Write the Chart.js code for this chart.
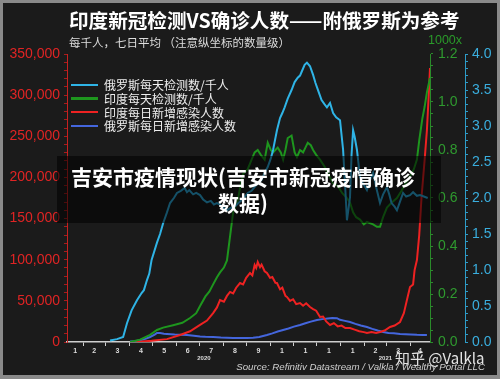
<!DOCTYPE html>
<html>
<head>
<meta charset="utf-8">
<script src="https://cdn.jsdelivr.net/npm/chart.js@4"></script>
<style>
  html, body { margin:0; padding:0; }
  body { width:500px; height:379px; background:#8a8a8a; position:relative; overflow:hidden; }
  #frame { position:absolute; left:3px; top:3px; width:494px; height:372px; background:#1b1b1b; }
  #c { position:absolute; left:0; top:0; }
  .txt { position:absolute; white-space:nowrap; }
  #title { left:69px; top:6px; font:bold 19.6px "Noto Sans CJK SC", sans-serif; color:#fff; line-height:28px; }
  #sub { left:69px; top:34px; font:11.5px "Noto Sans CJK SC", sans-serif; color:#ddd; line-height:16px; }
  #kx { left:428px; top:32px; font:12.5px "Liberation Sans", Arial, sans-serif; color:#2a9a2a; line-height:16px; }
  #legend { position:absolute; left:71px; top:78px; }
  .li { height:13.7px; display:flex; align-items:center; font:12px "Noto Sans CJK SC", sans-serif; color:#eee; }
  .sw { width:27px; height:2.5px; margin-right:6px; }
  #overlay { position:absolute; left:57px; top:156px; width:384px; height:67px; background:rgba(0,0,0,0.55);
             text-align:center; font:bold 21px "Noto Sans CJK SC", sans-serif; color:#fff; line-height:26px;
             box-sizing:border-box; padding-top:7px; padding-right:12px; }
  #src { right:15px; top:361px; font:italic 9.7px "Liberation Sans", Arial, sans-serif; color:#cfcfcf; }
  #wm { left:395px; top:347px; font:15px "Noto Sans CJK SC", sans-serif; color:rgba(255,255,255,0.88); }
</style>
</head>
<body>
<div id="frame"></div>
<canvas id="c" width="500" height="379"></canvas>
<div class="txt" id="title">印度新冠检测VS确诊人数——附俄罗斯为参考</div>
<div class="txt" id="sub">每千人，七日平均 （注意纵坐标的数量级）</div>
<div class="txt" id="kx">1000x</div>
<div id="legend"></div>
<div id="overlay">吉安市疫情现状(吉安市新冠疫情确诊<br>数据)</div>
<div class="txt" id="wm">知乎 @Valkla</div>
<div class="txt" id="src">Source: Refinitiv Datastream / Valkla / Wealthy Portal LLC</div>
<script>
// x values are days counted from 2020-01-01 (day 0)
const seriesLabels = ['俄罗斯每天检测数/千人', '印度每天检测数/千人', '印度每日新增感染人数', '俄罗斯每日新增感染人数'];

// Russia daily tests per thousand (cyan axis)
const ruTestDays = [66,75,83,88,94,101,107,110,114,117,120,127,131,135,140,144,149,153,158,163,166,169,174,178,183,187,192,197,201,205,210,214,218,222,228,233,240,245,250,256,263,267,271,275,278,283,287,290,293,297,302,306,310,313,315,319,322,326,330,333,335,338,341,345,348,352,356,360,365,369,372,374,376,378,380,382,384,387,391,395,400,404,408,412,417,421,426,429,432,436,439,443,447,451,456,460,465,469,474,479];
const ruTests = [0.02,0.04,0.07,0.26,0.44,0.58,0.68,0.72,0.86,0.95,1.14,1.38,1.50,1.65,1.80,1.93,2.00,2.07,2.10,2.14,2.08,2.11,2.05,2.07,2.04,1.98,1.94,1.96,1.91,1.93,1.90,1.86,1.83,1.86,1.88,1.93,2.00,2.07,2.10,2.18,2.25,2.35,2.43,2.55,2.67,2.94,3.11,3.18,3.26,3.38,3.50,3.61,3.67,3.70,3.75,3.85,3.88,3.83,3.71,3.60,3.54,3.45,3.36,3.30,3.26,3.32,3.18,3.12,3.08,2.67,2.10,1.69,1.85,2.01,2.60,2.94,2.85,2.67,2.29,2.20,2.11,2.25,2.35,2.15,1.93,2.05,2.15,2.05,1.93,1.88,1.83,1.95,2.07,2.02,2.04,2.08,2.03,2.04,2.02,2.00];

// India daily tests per thousand (green axis)
const inTestDays = [92,105,118,127,135,148,160,170,178,183,190,195,200,205,209,214,218,222,226,232,236,239,245,250,254,258,262,267,271,275,278,284,288,291,294,297,302,306,309,313,317,320,323,327,330,334,339,345,350,356,362,368,374,378,382,386,391,396,400,408,413,417,421,426,432,439,445,450,456,461,465,468,472,475,478,482];
const inTests = [0,0.01,0.03,0.05,0.06,0.07,0.08,0.10,0.12,0.15,0.19,0.21,0.24,0.27,0.29,0.31,0.34,0.44,0.54,0.59,0.66,0.70,0.72,0.76,0.79,0.80,0.78,0.76,0.83,0.80,0.79,0.81,0.79,0.76,0.80,0.85,0.86,0.79,0.77,0.80,0.79,0.81,0.83,0.82,0.80,0.78,0.76,0.73,0.70,0.66,0.65,0.62,0.60,0.58,0.54,0.52,0.51,0.49,0.50,0.49,0.48,0.48,0.52,0.56,0.58,0.60,0.63,0.66,0.69,0.72,0.76,0.84,0.93,0.98,1.04,1.10];

// India daily new cases (left axis)
const inCaseDays = [100,120,140,157,170,183,192,200,205,209,214,218,222,226,230,235,239,243,248,251,254,256,258,261,263,267,270,274,277,281,283,287,290,294,296,300,304,308,313,317,321,326,330,334,339,343,347,352,357,362,367,372,378,384,390,396,400,406,412,417,423,430,436,443,448,452,456,460,462,465,468,471,475,478,480,482];
const inCases = [0,1500,3500,8500,13000,20700,26000,35200,42000,51000,49000,56000,60800,59000,66000,71700,70000,78000,83900,81000,93600,90000,97200,91000,94000,86000,83900,78000,79000,72000,71700,64000,66000,56000,54700,50000,52000,46000,47400,44000,47000,42500,40000,38000,30400,31000,25000,20700,23000,19000,20000,17000,17000,15000,13000,12000,10900,12000,11000,12200,14000,18200,20000,24300,35000,51000,66800,70000,87500,99600,130000,176200,221100,257600,294000,333000];

// Russia daily new cases (left axis)
const ruCaseDays = [92,100,111,118,124,127,131,136,140,150,158,166,175,183,190,200,210,218,226,235,244,252,260,265,270,277,284,291,298,305,313,320,327,335,342,349,355,361,365,370,378,385,392,400,407,414,421,428,435,443,450,457,465,472,478];
const ruCases = [600,1200,3600,6100,9000,11000,10900,10000,9700,9000,8800,8500,7500,6700,6300,6100,5400,5100,4900,4900,5000,5100,6000,7200,8500,10500,12700,14600,16500,18700,20700,22800,24800,26700,27800,28500,29200,29000,27000,26000,24300,22000,20000,18200,16000,14000,12200,11000,10500,9700,9300,9000,8700,8600,8500];

// Month axis: first day of each month shown, and the labels under each month
const monthStarts = [10,31,60,91,121,152,182,213,244,274,305,335,366,397,425,456,482];
const monthLabels = ['1','2','3','4','5','6','7','8','9','1','1','1','1','2','3','4'];
const yearLabels = ['2020','2021'];
const yearSpans = [[10,366],[366,482]];

const leftTickLabels = [0,50000,100000,150000,200000,250000,300000,350000];

const colors = ['#2fb4e6', '#1e961e', '#ee2222', '#4466dd'];

function pts(days, vals) { return days.map((d, i) => ({x: d, y: vals[i]})); }

const monthMids = monthLabels.map((_, i) => (monthStarts[i] + monthStarts[i + 1]) / 2);
const xTicks = [];
monthStarts.slice(1, -1).forEach(v => xTicks.push({value: v, label: '', mark: true}));
monthMids.forEach((v, i) => xTicks.push({value: v, label: monthLabels[i], mark: false}));
xTicks.sort((a, b) => a.value - b.value);

const yearMids = yearSpans.map(s => (s[0] + s[1]) / 2);

Chart.defaults.font.family = '"Liberation Sans", Arial, sans-serif';

const near = (v, step) => Math.abs(v / step - Math.round(v / step)) < 1e-6;

const ds = [
  {data: pts(ruTestDays, ruTests), yAxisID: 'yC'},
  {data: pts(inTestDays, inTests), yAxisID: 'yG'},
  {data: pts(inCaseDays, inCases), yAxisID: 'yL'},
  {data: pts(ruCaseDays, ruCases), yAxisID: 'yL'}
].map((d, i) => Object.assign(d, {
  label: seriesLabels[i], borderColor: colors[i], backgroundColor: colors[i],
  borderWidth: 2, pointRadius: 0, tension: 0, xAxisID: 'x', fill: false
}));

const chart = new Chart(document.getElementById('c'), {
  type: 'line',
  data: {datasets: ds},
  options: {
    responsive: false, animation: false, devicePixelRatio: 1,
    layout: {padding: {left: 0, top: 54, right: 3, bottom: 14}},
    plugins: {legend: {display: false}, tooltip: {enabled: false}},
    scales: {
      x: {
        type: 'linear', position: 'bottom', min: 10, max: 482, weight: 0,
        afterBuildTicks: s => { s.ticks = xTicks.map(t => ({value: t.value})); },
        afterFit: s => { s.height = 13; },
        ticks: {
          autoSkip: false, maxRotation: 0, padding: 1, color: '#dcdcdc',
          font: {size: 7, weight: 'bold'},
          callback: (v) => { const t = xTicks.find(k => k.value === v); return t ? t.label : ''; }
        },
        grid: {drawOnChartArea: false, tickLength: 4, tickWidth: 1,
               tickColor: (c) => (c.tick && xTicks.find(k => k.value === c.tick.value && k.mark)) ? '#cfcfcf' : 'rgba(0,0,0,0)'},
        border: {color: '#cfcfcf', width: 1.5}
      },
      xYear: {
        type: 'linear', position: 'bottom', min: 10, max: 482, weight: 1,
        afterBuildTicks: s => { s.ticks = yearMids.map(v => ({value: v})); },
        afterFit: s => { s.height = 10; },
        ticks: {autoSkip: false, maxRotation: 0, padding: 0, color: '#dcdcdc', font: {size: 6, weight: 'bold'},
                callback: (v) => { const i = yearMids.indexOf(v); return i >= 0 ? yearLabels[i] : ''; }},
        grid: {display: false, drawTicks: false},
        border: {display: false}
      },
      yL: {
        type: 'linear', position: 'left', min: 0, max: 350000,
        afterBuildTicks: s => { const a = []; for (let v = 0; v <= 350000; v += 10000) a.push({value: v}); s.ticks = a; },
        afterFit: s => { s.width = 67; },
        ticks: {autoSkip: false, padding: 4, color: '#e02424', font: {size: 14},
                callback: v => leftTickLabels.includes(v) ? v.toLocaleString('en-US') : ''},
        grid: {drawOnChartArea: false, tickLength: 3, tickColor: 'rgba(200,30,30,0.8)'},
        border: {color: '#c82020', width: 1}
      },
      yG: {
        type: 'linear', position: 'right', min: 0, max: 1.2, weight: 0,
        afterBuildTicks: s => { const a = []; for (let i = 0; i <= 24; i++) a.push({value: i * 0.05}); s.ticks = a; },
        afterFit: s => { s.width = 35; },
        ticks: {autoSkip: false, padding: 5, color: '#2f9a2f', font: {size: 14},
                callback: v => near(v, 0.2) ? v.toFixed(1) : ''},
        grid: {drawOnChartArea: false, tickLength: 3, tickColor: '#2a8a2a'},
        border: {color: '#2a8a2a', width: 1}
      },
      yC: {
        type: 'linear', position: 'right', min: 0, max: 4, weight: 1,
        afterBuildTicks: s => { const a = []; for (let i = 0; i <= 40; i++) a.push({value: i * 0.1}); s.ticks = a; },
        afterFit: s => { s.width = 32; },
        ticks: {autoSkip: false, padding: 4, color: '#3aaede', font: {size: 14},
                callback: v => near(v, 0.5) ? v.toFixed(1) : ''},
        grid: {drawOnChartArea: false, tickLength: 3, tickColor: '#2e9cc8'},
        border: {color: '#2e9cc8', width: 1}
      }
    }
  }
});

// legend built from the chart's datasets
const lg = document.getElementById('legend');
chart.data.datasets.forEach(d => {
  const row = document.createElement('div'); row.className = 'li';
  const sw = document.createElement('span'); sw.className = 'sw'; sw.style.background = d.borderColor;
  const tx = document.createElement('span'); tx.textContent = d.label;
  row.appendChild(sw); row.appendChild(tx); lg.appendChild(row);
});
</script>
</body>
</html>
